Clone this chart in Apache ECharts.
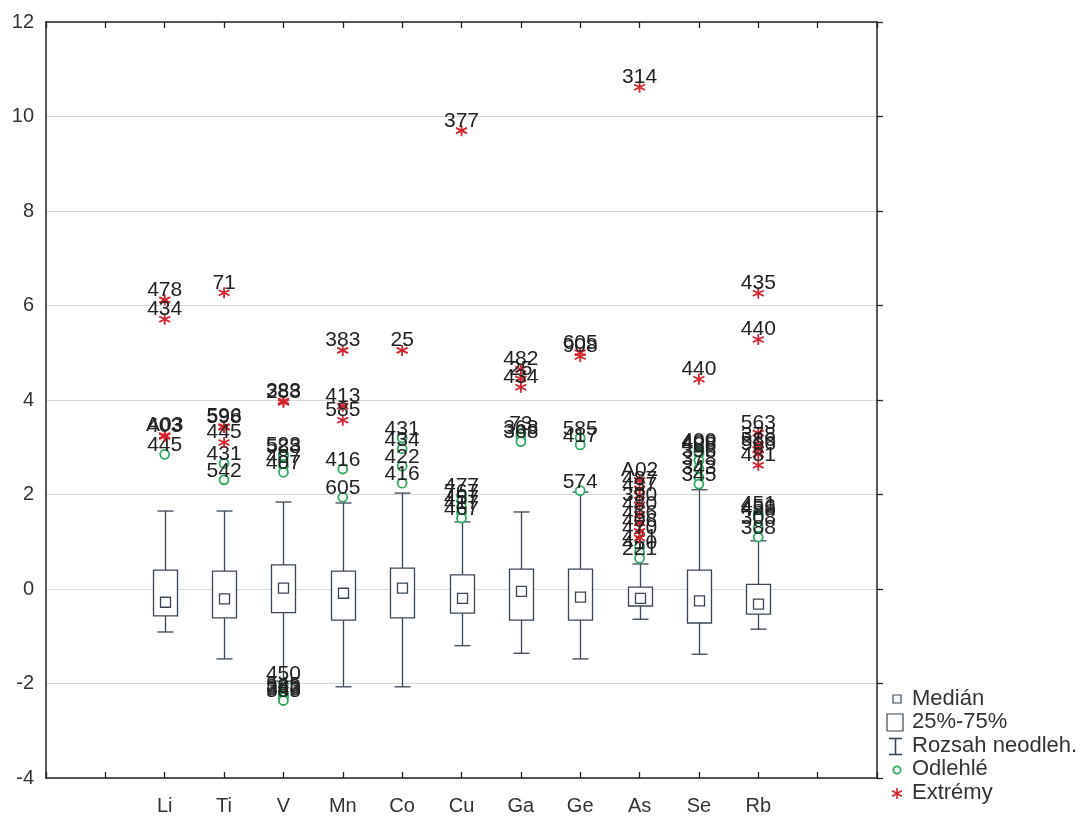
<!DOCTYPE html>
<html>
<head>
<meta charset="utf-8">
<script src="https://cdn.jsdelivr.net/npm/echarts@6/dist/echarts.min.js"></script>
<style>
  html, body { margin: 0; padding: 0; background: #fff; }
  #chart { width: 1088px; height: 816px; }
</style>
</head>
<body>
<div id="chart"></div>
<script>
// Box plot of standardized element contents
const categories = ['Li', 'Ti', 'V', 'Mn', 'Co', 'Cu', 'Ga', 'Ge', 'As', 'Se', 'Rb'];
const whiskerLow  = [-0.91, -1.48, -1.95, -2.07, -2.07, -1.20, -1.36, -1.48, -0.64, -1.38, -0.85];
const quartile1   = [-0.57, -0.61, -0.50, -0.66, -0.61, -0.51, -0.66, -0.66, -0.36, -0.72, -0.53];
const medians     = [-0.28, -0.21,  0.02, -0.09,  0.02, -0.20, -0.05, -0.17, -0.20, -0.25, -0.32];
const quartile3   = [ 0.40,  0.38,  0.51,  0.38,  0.44,  0.30,  0.42,  0.42,  0.04,  0.40,  0.10];
const whiskerHigh = [ 1.65,  1.65,  1.84,  1.82,  2.03,  1.42,  1.63,  2.05,  0.53,  2.10,  1.02];

// [element, value, sample id]
const outliers = [
  ['Li', 2.85, '445'],
  ['Ti', 2.66, '431'], ['Ti', 2.31, '542'],
  ['V', 2.85, '523'], ['V', 2.82, '588'], ['V', 2.60, '487'], ['V', 2.47, '407'],
  ['V', -2.00, '450'], ['V', -2.22, '545'], ['V', -2.26, '383'], ['V', -2.30, '343'], ['V', -2.36, '585'],
  ['Mn', 2.54, '416'], ['Mn', 1.94, '605'],
  ['Co', 3.20, '431'], ['Co', 2.97, '434'], ['Co', 2.60, '422'], ['Co', 2.24, '416'],
  ['Cu', 1.98, '477'], ['Cu', 1.86, '767'], ['Cu', 1.74, '457'], ['Cu', 1.62, '417'], ['Cu', 1.50, '467'],
  ['Ga', 3.30, '73'], ['Ga', 3.22, '363'], ['Ga', 3.12, '368'],
  ['Ge', 3.20, '585'], ['Ge', 3.05, '417'], ['Ge', 2.08, '574'],
  ['As', 0.90, '421'], ['As', 0.78, '410'], ['As', 0.65, '221'],
  ['Se', 2.95, '400'], ['Se', 2.90, '408'], ['Se', 2.86, '488'], ['Se', 2.72, '396'],
  ['Se', 2.55, '378'], ['Se', 2.36, '343'], ['Se', 2.22, '345'],
  ['Rb', 1.60, '451'], ['Rb', 1.55, '456'], ['Rb', 1.50, '458'], ['Rb', 1.30, '308'], ['Rb', 1.10, '388']
];

const extremes = [
  ['Li', 6.12, '478'], ['Li', 5.71, '434'], ['Li', 3.25, 'A03'], ['Li', 3.23, '403'],
  ['Ti', 6.27, '71'], ['Ti', 3.44, '596'], ['Ti', 3.42, '598'], ['Ti', 3.10, '445'],
  ['V', 3.98, '383'], ['V', 3.95, '288'],
  ['Mn', 5.05, '383'], ['Mn', 3.87, '413'], ['Mn', 3.57, '585'],
  ['Co', 5.05, '25'],
  ['Cu', 9.70, '377'],
  ['Ga', 4.65, '482'], ['Ga', 4.45, '25'], ['Ga', 4.27, '434'],
  ['Ge', 5.00, '605'], ['Ge', 4.92, '908'],
  ['As', 10.62, '314'], ['As', 2.30, 'A02'], ['As', 2.12, '487'], ['As', 1.98, '437'],
  ['As', 1.78, '390'], ['As', 1.58, '480'], ['As', 1.40, '466'], ['As', 1.22, '406'], ['As', 1.08, '470'],
  ['Se', 4.44, '440'],
  ['Rb', 6.26, '435'], ['Rb', 5.28, '440'], ['Rb', 3.30, '563'], ['Rb', 3.05, '378'],
  ['Rb', 2.95, '586'], ['Rb', 2.85, '566'], ['Rb', 2.62, '481']
];

const yTicks = { min: -4, max: 12, step: 2 };

// element i sits at x = i + 2 on a 0..14 axis
const slot = name => categories.indexOf(name) + 2;

const BOX_COLOR = '#3a4654';
const GREEN = '#2fa862';
const RED = '#d2232e';
const FONT = 'Liberation Sans, Arial, sans-serif';
const STAR = 'path://M5,0 L5,10 M0.67,2.5 L9.33,7.5 M0.67,7.5 L9.33,2.5';

const boxData = categories.map((c, i) =>
  [i + 2, whiskerLow[i], quartile1[i], medians[i], quartile3[i], whiskerHigh[i]]);

function renderBox(params, api) {
  const x = api.value(0);
  const pLow = api.coord([x, api.value(1)]);
  const pQ1 = api.coord([x, api.value(2)]);
  const pMed = api.coord([x, api.value(3)]);
  const pQ3 = api.coord([x, api.value(4)]);
  const pHigh = api.coord([x, api.value(5)]);
  const cx = Math.round(pLow[0]) + 0.5;
  const bw = 24, cap = 16, ms = 10;
  const st = { stroke: BOX_COLOR, lineWidth: 1.3, fill: null };
  return {
    type: 'group',
    children: [
      { type: 'line', shape: { x1: cx, y1: pQ1[1], x2: cx, y2: pLow[1] }, style: st },
      { type: 'line', shape: { x1: cx - cap / 2, y1: pLow[1], x2: cx + cap / 2, y2: pLow[1] }, style: st },
      { type: 'line', shape: { x1: cx, y1: pQ3[1], x2: cx, y2: pHigh[1] }, style: st },
      { type: 'line', shape: { x1: cx - cap / 2, y1: pHigh[1], x2: cx + cap / 2, y2: pHigh[1] }, style: st },
      { type: 'rect', shape: { x: cx - bw / 2, y: pQ3[1], width: bw, height: pQ1[1] - pQ3[1] },
        style: { stroke: BOX_COLOR, lineWidth: 1.3, fill: '#fff' } },
      { type: 'rect', shape: { x: cx - ms / 2, y: pMed[1] - ms / 2, width: ms, height: ms },
        style: { stroke: BOX_COLOR, lineWidth: 1.3, fill: '#fff' } }
    ]
  };
}

const pointLabel = {
  show: true, position: 'top', distance: 0, offset: [0, 7],
  formatter: p => p.name, color: '#222', fontSize: 21, fontFamily: FONT
};

const chart = echarts.init(document.getElementById('chart'), null, { renderer: 'canvas' });

const xBase = {
  type: 'value', min: 0, max: 14, interval: 1,
  splitLine: { show: false },
  axisLine: { show: true, onZero: false, lineStyle: { color: '#222', width: 1.5 } },
  axisTick: { show: true, inside: true, length: 6, lineStyle: { color: '#222', width: 1.3 } }
};
const yBase = {
  type: 'value', min: yTicks.min, max: yTicks.max, interval: yTicks.step,
  axisLine: { show: true, onZero: false, lineStyle: { color: '#222', width: 1.5 } }
};

const legendLine = (x1, y1, x2, y2, color) => ({
  type: 'line', shape: { x1, y1, x2, y2 }, style: { stroke: color, lineWidth: 1.6 }
});
const legendText = (text, top) => ({
  type: 'text', left: 912, top, style: { text, fill: '#333', font: '22px ' + FONT }
});

chart.setOption({
  backgroundColor: '#fff',
  animation: false,
  grid: { left: 46, right: 211, top: 22, bottom: 37, containLabel: false },
  xAxis: [
    Object.assign({}, xBase, {
      position: 'bottom',
      axisLabel: {
        show: true, margin: 18, color: '#333', fontSize: 20, fontFamily: FONT,
        formatter: v => categories[v - 2] || ''
      }
    }),
    Object.assign({}, xBase, { position: 'top', axisLabel: { show: false } })
  ],
  yAxis: [
    Object.assign({}, yBase, {
      position: 'left',
      axisTick: { show: false },
      splitLine: { show: true, lineStyle: { color: '#d9d9d9', width: 1 } },
      axisLabel: { color: '#333', fontSize: 20, fontFamily: FONT, margin: 12 }
    }),
    Object.assign({}, yBase, {
      position: 'right',
      axisTick: { show: true, inside: false, length: 6, lineStyle: { color: '#222', width: 1.3 } },
      splitLine: { show: false },
      axisLabel: { show: false }
    })
  ],
  series: [
    {
      type: 'custom',
      renderItem: renderBox,
      encode: { x: 0, y: [1, 2, 3, 4, 5] },
      data: boxData,
      z: 2
    },
    {
      name: 'Odlehlé',
      type: 'scatter',
      symbol: 'circle',
      symbolSize: 9,
      itemStyle: { color: '#fff', borderColor: GREEN, borderWidth: 1.8, opacity: 1 },
      label: pointLabel,
      data: outliers.map(([c, v, id]) => ({ name: id, value: [slot(c), v] })),
      z: 3
    },
    {
      name: 'Extrémy',
      type: 'scatter',
      symbol: STAR,
      symbolSize: 11,
      itemStyle: { color: RED, borderColor: RED, borderWidth: 1.8, opacity: 1 },
      label: pointLabel,
      data: extremes.map(([c, v, id]) => ({ name: id, value: [slot(c), v] })),
      z: 4
    }
  ],
  graphic: {
    elements: [
      {
        type: 'group', silent: true,
        children: [
          { type: 'rect', shape: { x: 893, y: 695, width: 8, height: 8 },
            style: { stroke: BOX_COLOR, lineWidth: 1.2, fill: '#fff' } },
          { type: 'rect', shape: { x: 887, y: 714, width: 16, height: 17 },
            style: { stroke: BOX_COLOR, lineWidth: 1.2, fill: '#fff' } },
          legendLine(895.5, 738, 895.5, 755, BOX_COLOR),
          legendLine(889, 738.5, 902, 738.5, BOX_COLOR),
          legendLine(889, 754.5, 902, 754.5, BOX_COLOR),
          { type: 'circle', shape: { cx: 897, cy: 770, r: 3.6 },
            style: { stroke: GREEN, lineWidth: 1.8, fill: '#fff' } },
          legendLine(897, 788, 897, 799, RED),
          legendLine(892.2, 790.75, 901.8, 796.25, RED),
          legendLine(892.2, 796.25, 901.8, 790.75, RED)
        ]
      },
      legendText('Medián', 688),
      legendText('25%-75%', 711),
      legendText('Rozsah neodleh.', 735),
      legendText('Odlehlé', 758),
      legendText('Extrémy', 782)
    ]
  }
});
</script>
</body>
</html>
